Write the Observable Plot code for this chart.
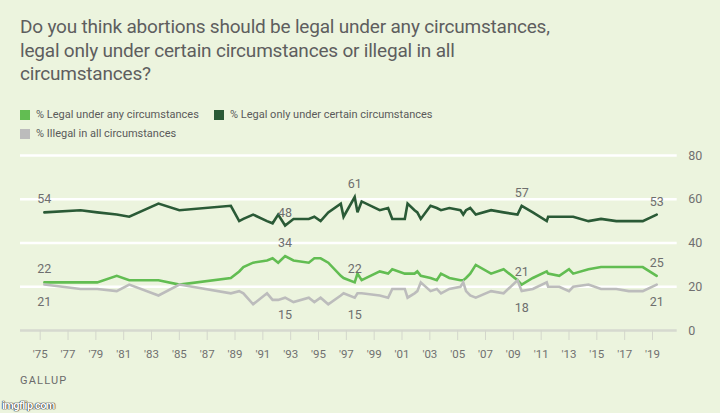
<!DOCTYPE html>
<html>
<head>
<meta charset="utf-8">
<script src="https://cdn.jsdelivr.net/npm/d3@7"></script>
<script src="https://cdn.jsdelivr.net/npm/@observablehq/plot@0.6"></script>
<style>
  html, body { margin: 0; padding: 0; background: #ecf4de; }
  #wrap { position: relative; width: 720px; height: 413px; overflow: hidden; background: #ecf4de; font-family: Roboto, "Noto Sans", sans-serif; }
  #title { position: absolute; left: 20px; top: 15px; font-size: 19px; line-height: 23.5px; color: #5e5e5e; width: 620px; letter-spacing: -0.2px; }
  .leg { position: absolute; font-size: 11px; color: #5a5a5a; display: flex; align-items: center; white-space: nowrap; }
  .sw { width: 10px; height: 10px; margin-right: 6px; display: inline-block; }
  #chart { position: absolute; left: 0; top: 145px; }
  #source { position: absolute; left: 20px; top: 374px; font-size: 11px; letter-spacing: 1.2px; color: #6a6a6a; }
  #wm { position: absolute; left: 2px; top: 399px; font-size: 11px; font-weight: bold; color: #fff; letter-spacing: -0.6px;
        text-shadow: 0 0 1px #222, 0 0 1px #222, 0 0 1px #222; }
</style>
</head>
<body>
<div id="wrap">
  <div id="title">Do you think abortions should be legal under any circumstances,<br>legal only under certain circumstances or illegal in all<br>circumstances?</div>
  <div id="legend"></div>
  <div id="chart"></div>
  <div id="source">GALLUP</div>
  <div id="wm">imgflip.com</div>
</div>
<script>
// ---- Data ----
const years = [1975.3, 1977.9, 1979.1, 1980.5, 1981.4, 1983.5, 1985.0, 1988.7, 1989.3, 1989.6,
  1990.3, 1991.3, 1991.7, 1992.1, 1992.6, 1993.2, 1994.3, 1994.7, 1995.15, 1995.7,
  1996.6, 1996.8, 1997.6, 1997.8, 1998.1, 1999.4, 2000.0, 2000.3, 2001.2, 2001.4,
  2001.9, 2002.1, 2002.35, 2003.05, 2003.5, 2003.8, 2004.4, 2005.2, 2005.4, 2005.6,
  2005.9, 2006.3, 2007.4, 2008.3, 2009.3, 2009.6, 2010.4, 2011.4, 2011.5, 2012.3,
  2013.0, 2013.3, 2014.4, 2015.3, 2016.4, 2017.3, 2018.3, 2019.3];
const legalAny = [22, 22, 22, 25, 23, 23, 21, 24, 27, 29,
  31, 32, 33, 31, 34, 32, 31, 33, 33, 31,
  25, 24, 22, 26, 23, 27, 26, 28, 26, 26,
  26, 27, 25, 24, 23, 26, 24, 23, 23, 24,
  26, 30, 26, 28, 23, 21, 24, 27, 26, 25,
  28, 26, 28, 29, 29, 29, 29, 25];
const legalCertain = [54, 55, 54, 53, 52, 58, 55, 57, 50, 51,
  53, 50, 49, 53, 48, 51, 51, 52, 50, 54,
  58, 52, 61, 54, 59, 55, 56, 51, 51, 58,
  55, 54, 51, 57, 56, 55, 56, 55, 53, 55,
  56, 53, 55, 54, 53, 57, 54, 50, 52, 52,
  52, 52, 50, 51, 50, 50, 50, 53];
const illegalAll = [21, 19, 19, 18, 21, 16, 21, 17, 18, 17,
  12, 17, 14, 14, 15, 13, 15, 13, 15, 12,
  16, 17, 15, 17, 17, 16, 15, 19, 19, 15,
  17, 18, 22, 18, 19, 17, 19, 20, 22, 18,
  16, 15, 18, 17, 23, 18, 19, 22, 20, 20,
  18, 20, 21, 19, 19, 18, 18, 21];

const seriesNames = ["% Legal under any circumstances", "% Legal only under certain circumstances", "% Illegal in all circumstances"];
const seriesColors = ["#62bd52", "#2a5a36", "#bcbcbc"];
const labelYears = [1975.3, 1992.6, 1997.6, 2009.6, 2019.3];
const tickYears = [1975, 1977, 1979, 1981, 1983, 1985, 1987, 1989, 1991, 1993, 1995, 1997, 1999,
  2001, 2003, 2005, 2007, 2009, 2011, 2013, 2015, 2017, 2019];
const yTicks = [0, 20, 40, 60, 80];

// ---- Build long table ----
const valueArrays = [legalAny, legalCertain, illegalAll];
const rows = [];
valueArrays.forEach((arr, s) => arr.forEach((v, i) => rows.push({year: years[i], value: v, series: seriesNames[s]})));

// ---- Legend ----
const legend = document.getElementById("legend");
const legPos = [[20, 108], [214, 108], [20, 127]];
seriesNames.forEach((n, i) => {
  const d = document.createElement("div");
  d.className = "leg";
  d.style.left = legPos[i][0] + "px";
  d.style.top = legPos[i][1] + "px";
  d.innerHTML = `<span class="sw" style="background:${seriesColors[i]}"></span>${n}`;
  legend.appendChild(d);
});

// ---- Chart ----
const pxPerYear = (652 - 39.7) / 44;
const chart = Plot.plot({
  width: 720,
  height: 225,
  marginTop: 10,
  marginBottom: 40,
  marginLeft: 20,
  marginRight: 43.3,
  style: {background: "transparent", fontFamily: "Roboto, sans-serif", overflow: "visible"},
  x: {domain: [1975 - 19.7 / pxPerYear, 2019 + 24.7 / pxPerYear]},
  y: {domain: [0, 80]},
  color: {domain: seriesNames, range: seriesColors},
  marks: [
    Plot.ruleY([20, 40, 60, 80], {stroke: "#ffffff", strokeWidth: 2.5}),
    Plot.ruleY([0], {stroke: "#d6d9cf", strokeWidth: 2.5}),
    Plot.axisX({ticks: tickYears, tickFormat: d => "'" + String(d).slice(2), tickSize: 10, tickPadding: 9,
      stroke: "#d3d6cb", fill: "#707070", fontSize: 11.5, label: null}),
    Plot.axisY({anchor: "right", ticks: yTicks, tickSize: 0, tickPadding: 11, fill: "#707070", fontSize: 12.5, label: null}),
    Plot.line(rows, {x: "year", y: "value", z: "series", stroke: "series", strokeWidth: 2.6, strokeLinejoin: "miter", strokeMiterlimit: 3}),
    Plot.text(rows.filter(d => labelYears.includes(d.year) && d.series !== seriesNames[2]),
      {x: "year", y: "value", text: d => String(d.value), dy: -13, fill: "#6e6e6e", fontSize: 12.5}),
    Plot.text(rows.filter(d => labelYears.includes(d.year) && d.series === seriesNames[2]),
      {x: "year", y: "value", text: d => String(d.value), dy: 17, fill: "#6e6e6e", fontSize: 12.5})
  ]
});
document.getElementById("chart").appendChild(chart);
</script>
</body>
</html>
